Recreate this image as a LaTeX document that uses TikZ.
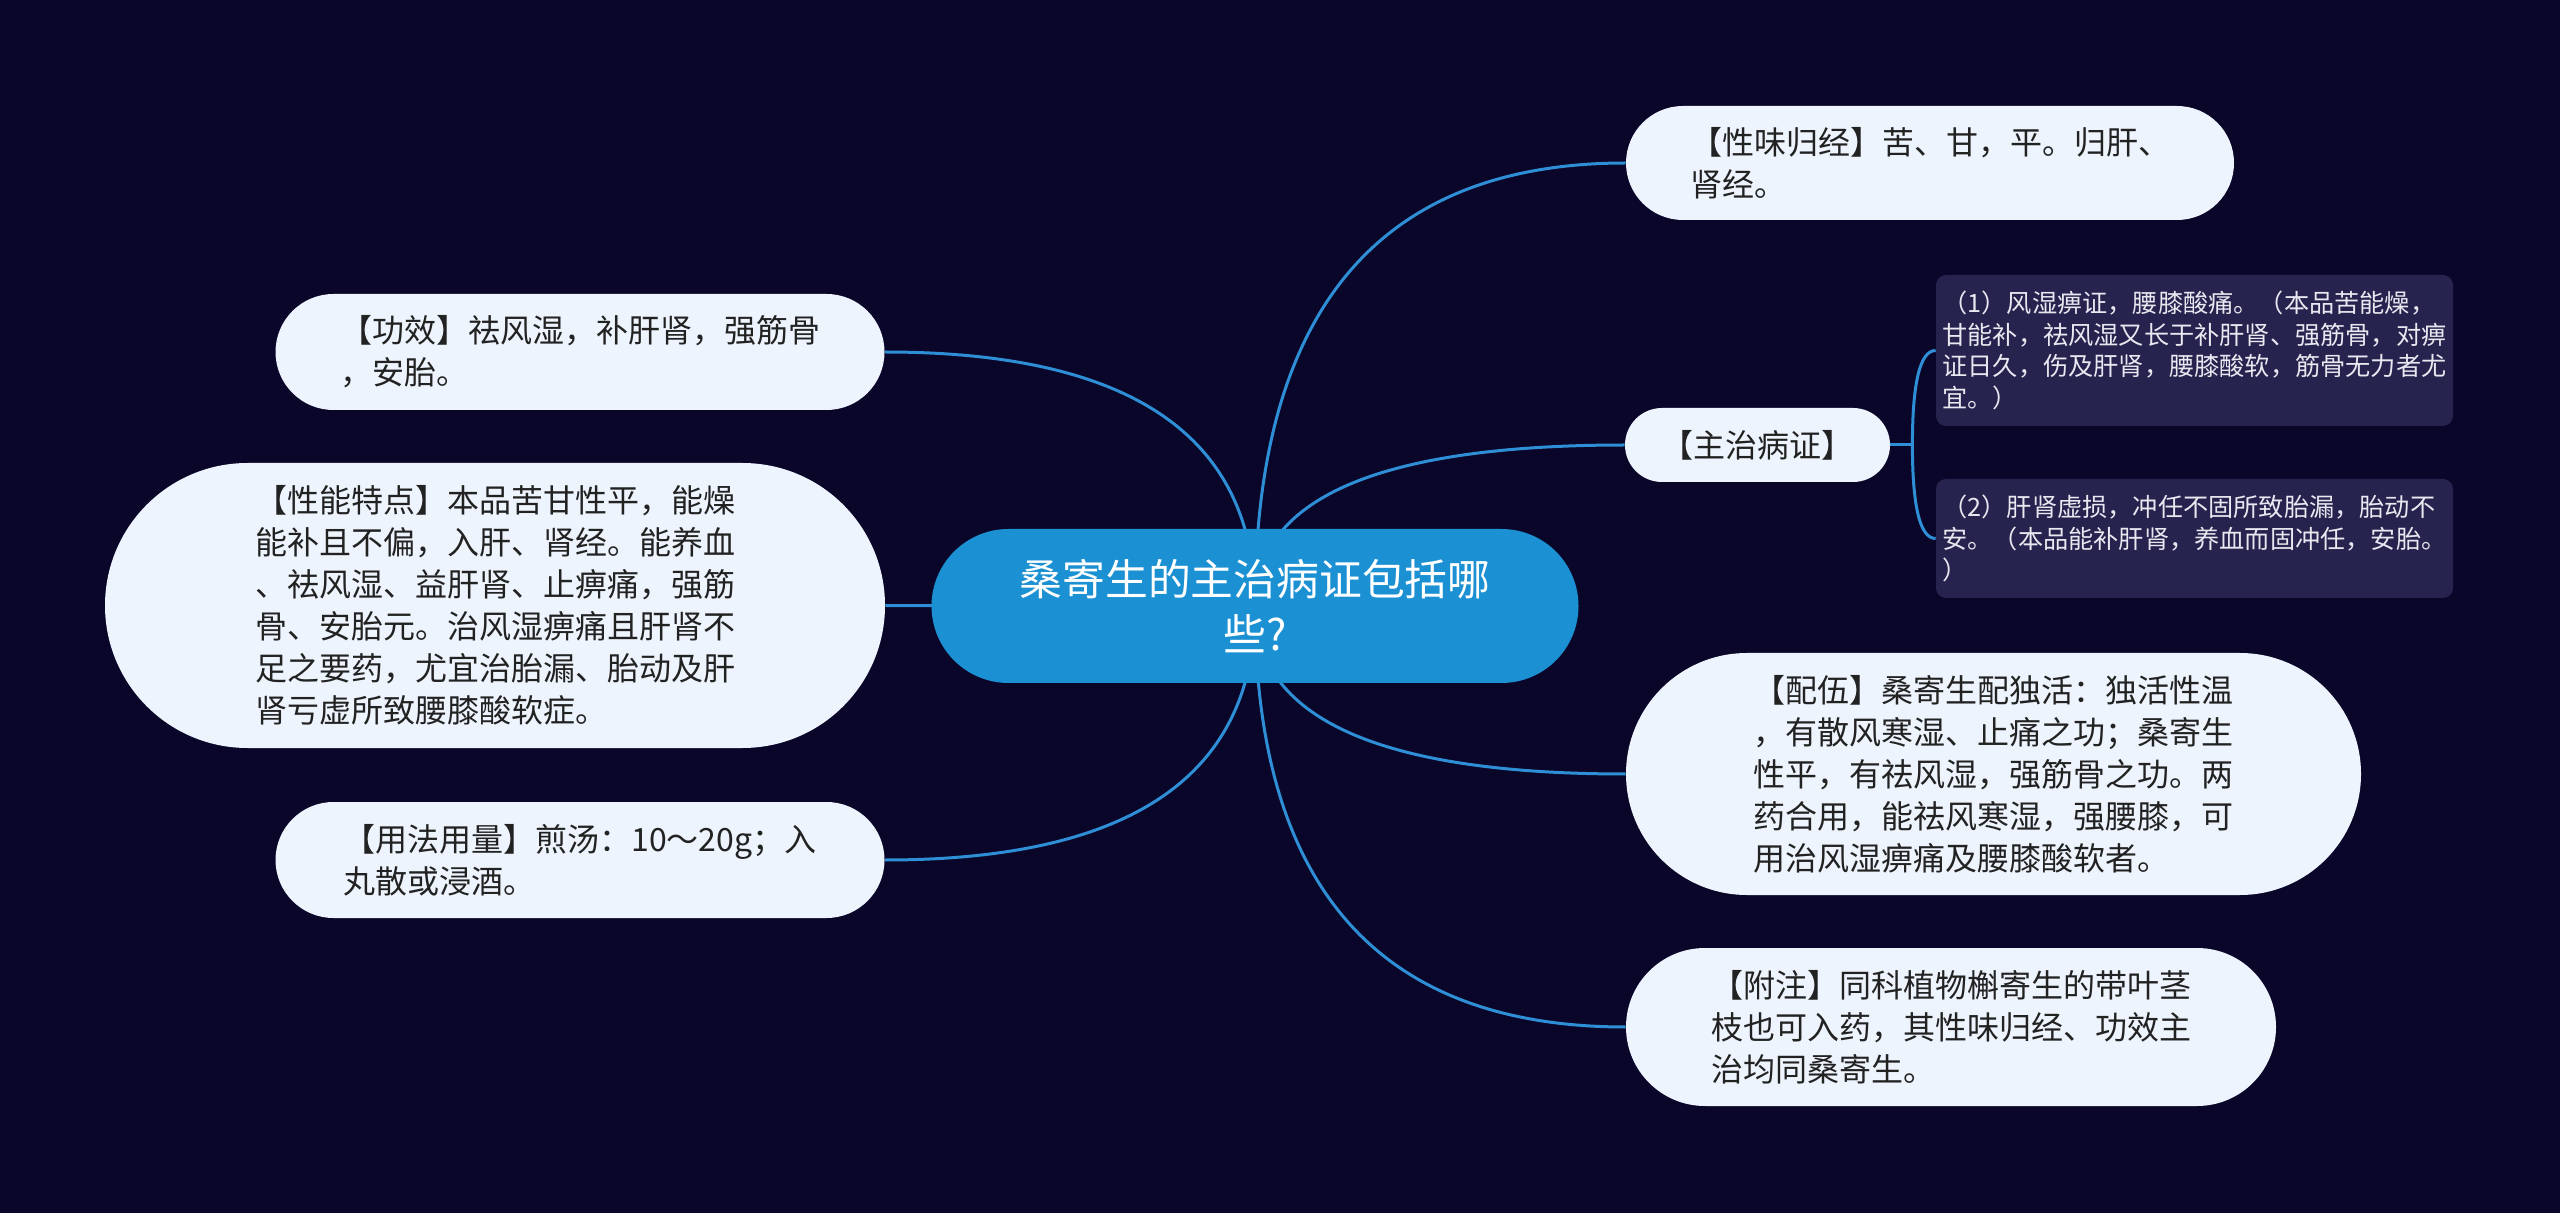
\documentclass[tikz,border=0pt]{standalone}
\usepackage{fontspec}
\setmainfont{Noto Sans CJK SC}
\usetikzlibrary{calc}
\pgfdeclarelayer{bg}
\pgfdeclarelayer{edges}
\pgfsetlayers{bg,edges,main}
\definecolor{bgc}{RGB}{10,6,42}
\definecolor{rootc}{RGB}{27,144,210}
\definecolor{leafc}{RGB}{238,244,253}
\definecolor{leaftext}{RGB}{34,34,34}
\definecolor{subc}{RGB}{38,35,78}
\definecolor{subtext}{RGB}{232,232,240}
\definecolor{linec}{RGB}{46,143,214}
\tikzset{
  rootbox/.style={fill=rootc, text=white, align=center, inner sep=0pt,
    font=\fontsize{21.4pt}{27.5pt}\selectfont},
  leaf/.style={fill=leafc, text=leaftext, align=left, inner sep=0pt,
    font=\fontsize{16pt}{21pt}\selectfont},
  subbox/.style={fill=subc, text=subtext, align=left, inner sep=0pt,
    rounded corners=5pt, font=\fontsize{12.6pt}{15.8pt}\selectfont},
  conn/.style={draw=linec, line width=1.5pt},
  quadto/.style={to path={.. controls ($(\tikztostart)!0.6667!(\tikztostart |- \tikztotarget)$) and ($(\tikztotarget)!0.6667!(\tikztostart |- \tikztotarget)$) .. (\tikztotarget)}}
}
\begin{document}
\begin{tikzpicture}[x=0.5pt,y=-0.5pt]
\begin{pgfonlayer}{bg}
\fill[bgc] (0,0) rectangle (2560,1213);
\end{pgfonlayer}
\useasboundingbox (0,0) rectangle (2560,1213);

% root
\node[rootbox, minimum width=323.5pt, minimum height=77pt, rounded corners=38.5pt] (root) at (1255,606) {桑寄生的主治病证包括哪\\些?};

% right side
\node[leaf, minimum width=304pt, minimum height=57pt, rounded corners=28.5pt] (xw) at (1930,163) {【性味归经】苦、甘，平。归肝、\\肾经。};
\node[leaf, minimum width=132.5pt, minimum height=37pt, rounded corners=18.5pt] (zz) at (1757.5,445) {【主治病证】};
\node[subbox, minimum width=258.5pt, minimum height=75.5pt] (s1) at (2194.5,350.5) {（1）风湿痹证，腰膝酸痛。（本品苦能燥，\\甘能补，祛风湿又长于补肝肾、强筋骨，对痹\\证日久，伤及肝肾，腰膝酸软，筋骨无力者尤\\宜。）};
\node[subbox, minimum width=258.5pt, minimum height=59.5pt] (s2) at (2194.5,538.5) {（2）肝肾虚损，冲任不固所致胎漏，胎动不\\安。（本品能补肝肾，养血而固冲任，安胎。\\）};
\node[leaf, minimum width=367.5pt, minimum height=121pt, rounded corners=60.5pt] (pw) at (1993.5,774) {【配伍】桑寄生配独活：独活性温\\，有散风寒湿、止痛之功；桑寄生\\性平，有祛风湿，强筋骨之功。两\\药合用，能祛风寒湿，强腰膝，可\\用治风湿痹痛及腰膝酸软者。};
\node[leaf, minimum width=325pt, minimum height=79pt, rounded corners=39.5pt] (fz) at (1951,1027) {【附注】同科植物槲寄生的带叶茎\\枝也可入药，其性味归经、功效主\\治均同桑寄生。};

% left side
\node[leaf, minimum width=304.5pt, minimum height=58pt, rounded corners=29pt] (gx) at (580,352) {【功效】祛风湿，补肝肾，强筋骨\\，安胎。};
\node[leaf, minimum width=390pt, minimum height=142.5pt, rounded corners=71.25pt] (xn) at (495,605.5) {【性能特点】本品苦甘性平，能燥\\能补且不偏，入肝、肾经。能养血\\、祛风湿、益肝肾、止痹痛，强筋\\骨、安胎元。治风湿痹痛且肝肾不\\足之要药，尤宜治胎漏、胎动及肝\\肾亏虚所致腰膝酸软症。};
\node[leaf, minimum width=304.5pt, minimum height=58pt, rounded corners=29pt] (yf) at (580,860) {【用法用量】煎汤：10～20g；入\\丸散或浸酒。};

\coordinate (j) at ($(zz.east)+(22,0)$);

\begin{pgfonlayer}{edges}
\draw[conn] (root.center) to[quadto] (xw.west);
\draw[conn] (root.center) to[quadto] (zz.west);
\draw[conn] (root.center) to[quadto] (pw.west);
\draw[conn] (root.center) to[quadto] (fz.west);
\draw[conn] (root.center) to[quadto] (gx.east);
\draw[conn] (root.center) -- (xn.east);
\draw[conn] (root.center) to[quadto] (yf.east);
\draw[conn] (zz.east) -- (j);
\draw[conn] (j) to[quadto] (s1.west);
\draw[conn] (j) to[quadto] (s2.west);
\end{pgfonlayer}
\end{tikzpicture}
\end{document}
